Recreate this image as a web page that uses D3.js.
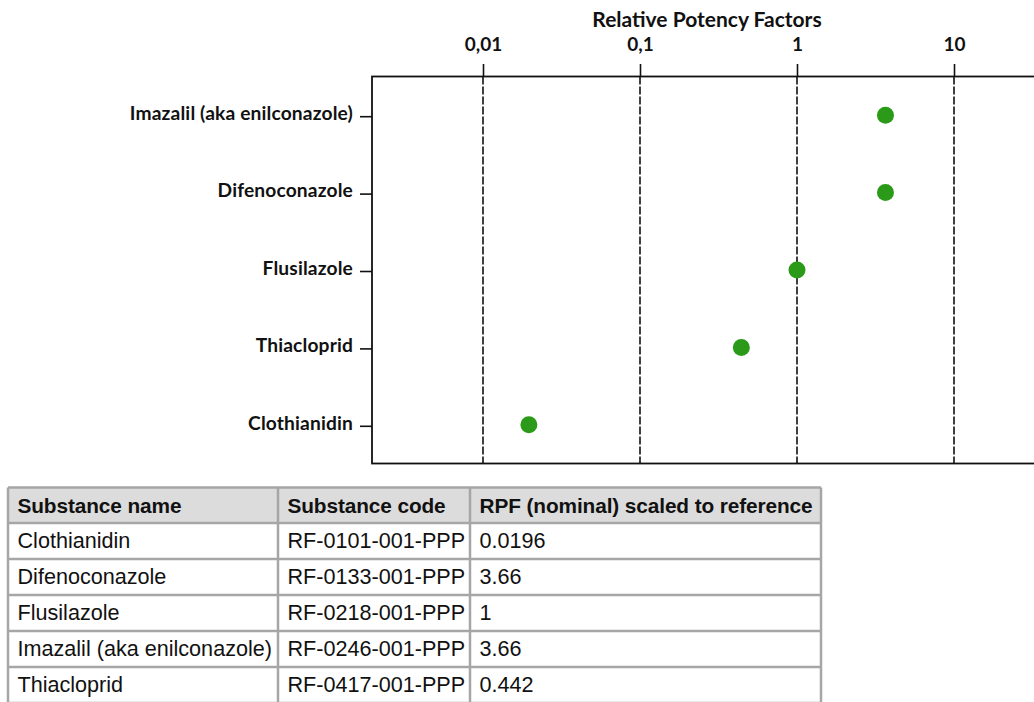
<!DOCTYPE html>
<html>
<head>
<meta charset="utf-8">
<script src="https://cdn.jsdelivr.net/npm/d3@7"></script>
<style>
  html, body { margin: 0; padding: 0; background: #fff; }
  svg { display: block; }
</style>
</head>
<body>
<svg id="chart" width="1034" height="702"></svg>
<script>
// Substances as listed in the table (alphabetical)
const substances = ["Clothianidin", "Difenoconazole", "Flusilazole", "Imazalil (aka enilconazole)", "Thiacloprid"];
const codes = ["RF-0101-001-PPP", "RF-0133-001-PPP", "RF-0218-001-PPP", "RF-0246-001-PPP", "RF-0417-001-PPP"];
const rpfValues = [0.0196, 3.66, 1, 3.66, 0.442];
const rpfLabels = ["0.0196", "3.66", "1", "3.66", "0.442"];

// Order of substances on the chart, top to bottom
const chartOrder = ["Imazalil (aka enilconazole)", "Difenoconazole", "Flusilazole", "Thiacloprid", "Clothianidin"];

// Axis ticks and their labels (decimal comma)
const tickValues = [0.01, 0.1, 1, 10];
const tickLabels = ["0,01", "0,1", "1", "10"];

const tableHeaders = ["Substance name", "Substance code", "RPF (nominal) scaled to reference"];

const svg = d3.select("#chart");

// ---------- Dot plot ----------
const plot = { left: 372, top: 76.5, bottom: 463.5 };
const x = d3.scaleLog().domain([0.01, 10]).range([483, 954]);
const plotRight = x(100);

const y = d3.scaleBand().domain(chartOrder).range([plot.top, plot.bottom]).padding(0);

const chartFont = "Lato, 'Open Sans', sans-serif";

// Title
svg.append("text")
  .attr("x", 707).attr("y", 27)
  .attr("text-anchor", "middle")
  .attr("font-family", chartFont).attr("font-weight", 700).attr("font-size", 21)
  .attr("fill", "#111")
  .text("Relative Potency Factors");

// Dashed vertical gridlines inside the plot
svg.append("g").selectAll("line")
  .data(tickValues).join("line")
  .attr("x1", d => x(d)).attr("x2", d => x(d))
  .attr("y1", plot.top).attr("y2", plot.bottom)
  .attr("stroke", "#111").attr("stroke-width", 1.6)
  .attr("stroke-dasharray", "8,2");

// Top axis
const xAxis = d3.axisTop(x)
  .tickValues(tickValues)
  .tickFormat((d, i) => tickLabels[i])
  .tickSize(12.5).tickPadding(13);
const gx = svg.append("g").attr("transform", `translate(0,${plot.top})`).call(xAxis);
gx.select(".domain").remove();
gx.selectAll(".tick line").attr("stroke", "#111").attr("stroke-width", 1.6);
gx.selectAll(".tick text")
  .attr("font-family", chartFont).attr("font-weight", 700).attr("font-size", 19)
  .attr("fill", "#111");

// Left axis with substance names
const yAxis = d3.axisLeft(y).tickSize(12).tickPadding(7);
const gy = svg.append("g").attr("transform", `translate(${plot.left},0)`).call(yAxis);
gy.select(".domain").remove();
gy.selectAll(".tick line").attr("stroke", "#111").attr("stroke-width", 1.6)
  .attr("transform", "translate(0,1.5)");
gy.selectAll(".tick text")
  .attr("font-family", chartFont).attr("font-weight", 700).attr("font-size", 19.2)
  .attr("letter-spacing", 0.15)
  .attr("fill", "#111")
  .attr("dy", "0.25em");

// Plot frame
svg.append("rect")
  .attr("x", plot.left).attr("y", plot.top)
  .attr("width", plotRight - plot.left).attr("height", plot.bottom - plot.top)
  .attr("fill", "none").attr("stroke", "#111").attr("stroke-width", 1.8);

// Points
const points = chartOrder.map(name => ({ name, value: rpfValues[substances.indexOf(name)] }));
svg.append("g").selectAll("circle")
  .data(points).join("circle")
  .attr("cx", d => x(d.value))
  .attr("cy", d => y(d.name) + y.bandwidth() / 2)
  .attr("r", 8.5)
  .attr("fill", "#2a9a18");

// ---------- Table ----------
const colEdges = [8, 278, 470, 821];
const rowEdges = [487.5, 523, 559, 595, 631, 667, 703];
const tableFont = "'Liberation Sans', Arial, sans-serif";
const table = svg.append("g");

table.append("rect")
  .attr("x", colEdges[0]).attr("y", rowEdges[0])
  .attr("width", colEdges[3] - colEdges[0]).attr("height", rowEdges[1] - rowEdges[0])
  .attr("fill", "#dcdcdc");

const rows = [tableHeaders].concat(substances.map((s, i) => [s, codes[i], rpfLabels[i]]));

rows.forEach((row, r) => {
  row.forEach((cell, c) => {
    table.append("text")
      .attr("x", colEdges[c] + 9.5)
      .attr("y", rowEdges[r] + 25)
      .attr("font-family", tableFont)
      .attr("font-weight", r === 0 ? 700 : 400)
      .attr("font-size", r === 0 ? 20.8 : 21.6)
      .attr("letter-spacing", r === 0 ? -0.1 : 0)
      .attr("fill", "#111")
      .text(cell);
  });
});

// Table grid
table.selectAll("line.h")
  .data(rowEdges).join("line")
  .attr("class", "h")
  .attr("x1", colEdges[0]).attr("x2", colEdges[3])
  .attr("y1", d => d).attr("y2", d => d)
  .attr("stroke", "#a6a6a6").attr("stroke-width", 2.5);
table.selectAll("line.v")
  .data(colEdges).join("line")
  .attr("class", "v")
  .attr("x1", d => d).attr("x2", d => d)
  .attr("y1", rowEdges[0]).attr("y2", rowEdges[rowEdges.length - 1])
  .attr("stroke", "#a6a6a6").attr("stroke-width", 2.5);
</script>
</body>
</html>
